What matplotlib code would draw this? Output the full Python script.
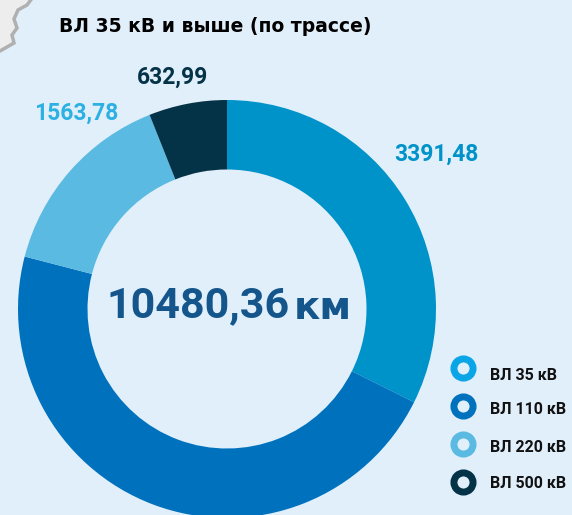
import matplotlib
matplotlib.use('Agg')
import matplotlib.pyplot as plt
from matplotlib.patches import Polygon

labels = ['ВЛ 35 кВ', 'ВЛ 110 кВ', 'ВЛ 220 кВ', 'ВЛ 500 кВ']
values = [3391.48, 4892.11, 1563.78, 632.99]
value_labels = ['3391,48', '', '1563,78', '632,99']
colors = ['#0093C9', '#0071BC', '#5ABAE2', '#043347']
legend_colors = ['#0AA5E6', '#0071BC', '#5ABAE2', '#043347']
label_colors = ['#0093C9', '#0071BC', '#2DB0E2', '#043347']
total_label = '10480,36'
title = 'ВЛ 35 кВ и выше (по трассе)'

bg = '#E1EFFB'
fig = plt.figure(figsize=(5.72, 5.15), dpi=100, facecolor=bg)
ax = fig.add_axes([0, 0, 1, 1])
ax.set_facecolor(bg)

# bit of the map in the corner
ax.add_patch(Polygon([(-3, 518), (33, 518), (27, 510), (18, 505), (14, 496), (17, 487), (12, 480),
                      (14, 472), (7, 468), (0, 464), (-3, 464)],
                     facecolor='#EDEDED', edgecolor='#B0B0B0', lw=2.5))

ax.pie(values, colors=colors, startangle=90, counterclock=False, center=(227, 206), radius=209,
       wedgeprops={'width': 69.5, 'linewidth': 0}, frame=True)
ax.set_xlim(0, 572)
ax.set_ylim(0, 515)
ax.set_aspect('equal')
ax.axis('off')

ax.text(59, 488, title, fontsize=13.5, fontweight='bold', color='black', va='center')

ax.text(436, 361, value_labels[0], fontsize=16.5, fontweight='bold', family='Roboto',
        color=label_colors[0], ha='center', va='center')
ax.text(76, 402, value_labels[2], fontsize=16.5, fontweight='bold', family='Roboto',
        color=label_colors[2], ha='center', va='center')
ax.text(173, 438, value_labels[3], fontsize=16.5, fontweight='bold', family='Roboto',
        color=label_colors[3], ha='center', va='center')

ax.text(198, 209, total_label, fontsize=31, fontweight='bold', family='Roboto',
        color='#14568C', ha='center', va='center')
ax.text(323, 207, 'км', fontsize=28, fontweight='bold',
        color='#14568C', ha='center', va='center')

# легенда
legend_y = [147, 109, 71, 33]
text_y = [140, 105, 68, 31]
for lab, col, y, ty in zip(labels, legend_colors, legend_y, text_y):
    ax.scatter(463, y, s=190, facecolor=bg, edgecolor=col, linewidth=5)
    ax.text(490, ty, lab, fontsize=11.5, fontweight='bold', family='Roboto',
            color='#111111', va='center')

fig.savefig('out.png', dpi=100, facecolor=bg)
